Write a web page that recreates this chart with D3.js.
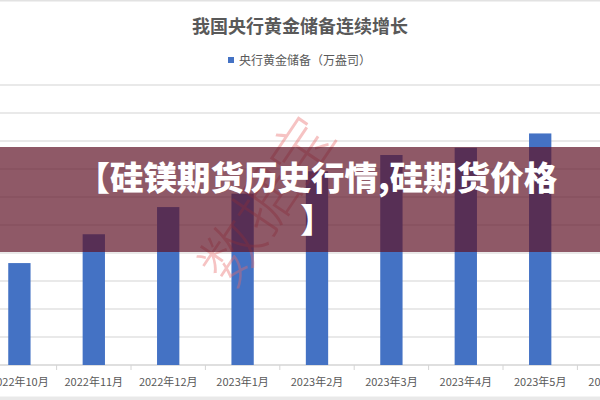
<!DOCTYPE html>
<html>
<head>
<meta charset="utf-8">
<script src="https://cdn.jsdelivr.net/npm/d3@7/dist/d3.min.js"></script>
<style>
  html, body { margin: 0; padding: 0; background: #ffffff; }
  svg { display: block; font-family: "Noto Sans CJK SC", "Noto Sans", sans-serif; }
</style>
</head>
<body>
<svg id="chart" width="600" height="400"></svg>
<script>
// ---- data ----
const categories = ["2022年9月", "2022年10月", "2022年11月", "2022年12月", "2023年1月",
                    "2023年2月", "2023年3月", "2023年4月", "2023年5月", "2023年6月"];
const values = [null, 6264, 6367, 6464, 6512, 6592, 6650, 6676, 6727, null];
const yTicks = [5900, 6000, 6100, 6200, 6300, 6400, 6500, 6600, 6700, 6800, 6900];
const chartTitle = "我国央行黄金储备连续增长";
const seriesName = "央行黄金储备（万盎司）";
const bannerLines = ["【硅镁期货历史行情,硅期货价格", "】"];
const watermark = "数据宝";

// ---- layout ----
const W = 600, H = 400;
const svg = d3.select("#chart");

const x = d3.scaleBand().domain(categories).range([-92.2, 651.8]).padding(0);
const y = d3.scaleLinear().domain([5900, 6900]).range([365, 85]);

// frame lines (cropped screenshot border)
svg.append("rect").attr("x", 0).attr("y", 0).attr("width", W).attr("height", 1.5).attr("fill", "#e2e2e2");
svg.append("rect").attr("x", 0).attr("y", 396.5).attr("width", W).attr("height", 3.5).attr("fill", "#e9e9e9");

// title
svg.append("text")
  .attr("x", 300).attr("y", 33)
  .attr("text-anchor", "middle")
  .attr("font-size", 18).attr("font-weight", 700)
  .attr("fill", "#595959")
  .text(chartTitle);

// legend
svg.append("rect").attr("x", 228).attr("y", 57).attr("width", 6).attr("height", 6).attr("fill", "#4472C4");
svg.append("text")
  .attr("x", 239).attr("y", 64.5)
  .attr("font-size", 12).attr("fill", "#595959")
  .text(seriesName);

// gridlines
svg.append("g").selectAll("line").data(yTicks).join("line")
  .attr("x1", 0).attr("x2", W)
  .attr("y1", d => y(d)).attr("y2", d => y(d))
  .attr("stroke", d => d === 5900 ? "#d4d4d4" : "#e2e2e2")
  .attr("stroke-width", 1.5);

// category boundary ticks
svg.append("g").selectAll("line").data(categories).join("line")
  .attr("x1", d => x(d)).attr("x2", d => x(d))
  .attr("y1", 365).attr("y2", 370)
  .attr("stroke", "#d4d4d4").attr("stroke-width", 1);

// bars
const bw = x.bandwidth() * 0.3;
svg.append("g").selectAll("rect")
  .data(categories.map((c, i) => ({ c, v: values[i] })).filter(d => d.v !== null))
  .join("rect")
  .attr("x", d => x(d.c) + (x.bandwidth() - bw) / 2)
  .attr("width", bw)
  .attr("y", d => y(d.v))
  .attr("height", d => y(5900) - y(d.v))
  .attr("fill", "#4472C4");

// x axis labels
const xAxis = d3.axisBottom(x).tickSize(0).tickPadding(0);
const gx = svg.append("g").attr("transform", "translate(0,378)").call(xAxis);
gx.select(".domain").remove();
gx.selectAll("text")
  .attr("font-family", "'Noto Sans CJK SC', sans-serif")
  .attr("font-size", 11).attr("fill", "#595959");

// watermark
svg.append("text")
  .attr("transform", "translate(263,198) rotate(-56)")
  .attr("text-anchor", "middle").attr("dominant-baseline", "central")
  .attr("font-size", 62).attr("font-weight", 300)
  .attr("fill", "#ea6a6a")
  .attr("opacity", 0.4)
  .text(watermark);

// banner overlay
svg.append("rect")
  .attr("x", 0).attr("y", 147).attr("width", W).attr("height", 105)
  .attr("fill", "rgb(95,19,39)").attr("fill-opacity", 0.7);

const bt = svg.append("text")
  .attr("text-anchor", "middle")
  .attr("font-size", 33.5).attr("font-weight", 900)
  .attr("fill", "#ffffff");
bt.selectAll("tspan").data(bannerLines).join("tspan")
  .attr("x", 317)
  .attr("y", (d, i) => 190 + i * 42)
  .text(d => d);
</script>
</body>
</html>
